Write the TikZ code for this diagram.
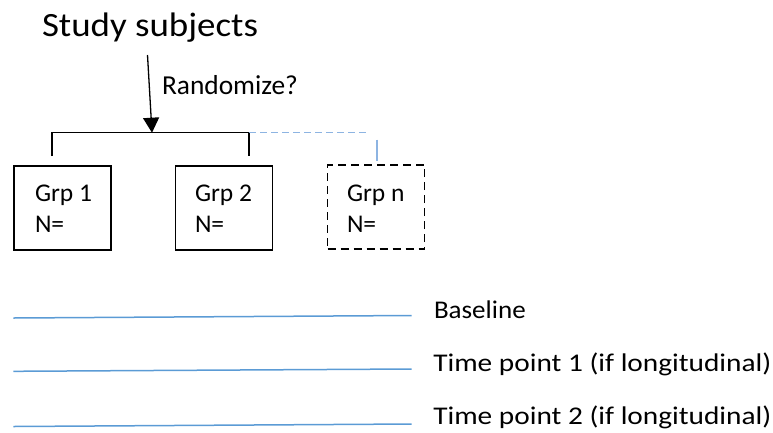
\documentclass[tikz,border=0pt]{standalone}
\usepackage{fontspec}
\usepackage{graphicx}
\setmainfont{Carlito}
\usetikzlibrary{arrows.meta}
\definecolor{lineblue}{HTML}{5B9BD5}
\definecolor{dashblue}{HTML}{8DB4E2}
\newcommand\stretchx[2]{\scalebox{#1}[1]{#2}}
\tikzset{
  txt/.style={anchor=base west, inner sep=0pt, outer sep=0pt},
  grptxt/.style={txt, font=\fontsize{25.5}{30}\selectfont},
  bottxt/.style={txt, font=\fontsize{25.5}{30}\selectfont},
  grpbox/.style={draw=black, line width=1.3pt, minimum width=97pt, minimum height=84pt, inner sep=0pt},
  dashbox/.style={grpbox, dash pattern=on 8pt off 5pt},
  blk/.style={draw=black, line width=1.3pt},
  tline/.style={draw=lineblue, line width=1.5pt},
}
\begin{document}
\begin{tikzpicture}[x=1pt,y=-1pt]
\useasboundingbox (0,0) rectangle (773,432);
% title and label
\node[txt, font=\fontsize{34}{40}\selectfont] (title) at (42,36) {\stretchx{1.086}{Study subjects}};
\node[txt, font=\fontsize{27.4}{34}\selectfont] (rand) at (162,94) {Randomize?};
% boxes
\node[grpbox] (b1) at (62.5,208) {};
\node[grpbox] (b2) at (224,208) {};
\node[dashbox] (bn) at (376,207) {};
\node[grptxt] (g1) at (35,201.7) {Grp 1};
\node[grptxt] (n1) at (35,232.7) {N=};
\node[grptxt] (g2) at (195,201.7) {Grp 2};
\node[grptxt] (n2) at (195,232.7) {N=};
\node[grptxt] (gn) at (347,201.7) {Grp n};
\node[grptxt] (nn) at (347,232.7) {N=};
% connector points
\coordinate (atop) at (147.5,55);
\coordinate (split) at (152,132.7);
\coordinate (l1) at (52,132.7);
\coordinate (l1b) at (52,156);
\coordinate (r2) at (249,132.7);
\coordinate (r2b) at (249,156);
\coordinate (dn) at (367,132.7);
\coordinate (vnT) at (377,139.5);
\coordinate (vnB) at (377,160.5);
\draw[blk, -{Triangle[width=16pt,length=15pt]}] (atop) -- (split);
\draw[blk] (l1b) -- (l1) -- (r2) -- (r2b);
\draw[draw=dashblue, line width=1.3pt, dash pattern=on 7pt off 4pt] (r2) -- (dn);
\draw[draw=dashblue, line width=1.3pt] (vnT) -- (vnB);
% timeline
\coordinate (a1) at (13.3,318);   \coordinate (a2) at (411.7,315.5);
\coordinate (c1) at (13.3,371.3); \coordinate (c2) at (411.7,369);
\coordinate (d1) at (13.3,426.5); \coordinate (d2) at (411.7,424);
\draw[tline] (a1) -- (a2);
\draw[tline] (c1) -- (c2);
\draw[tline] (d1) -- (d2);
\node[bottxt] (t0) at (434,318) {\stretchx{1.06}{Baseline}};
\node[bottxt] (t1) at (433.3,371.7) {\stretchx{1.15}{Time point 1 (if longitudinal)}};
\node[bottxt] (t2) at (433.3,424.5) {\stretchx{1.15}{Time point 2 (if longitudinal)}};
\end{tikzpicture}
\end{document}
